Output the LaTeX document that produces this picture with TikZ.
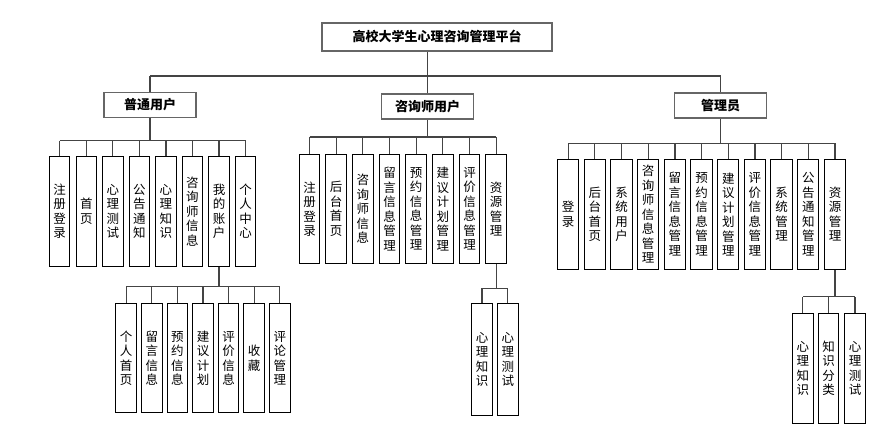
\documentclass[tikz,border=0pt]{standalone}
\usepackage{fontspec}
\newfontfamily\cjk{Noto Sans CJK SC}
\definecolor{lineg}{HTML}{444444}
\definecolor{boxg}{HTML}{666666}
\tikzset{
  top/.style={draw=boxg, line width=1.8pt, minimum width=230pt, minimum height=28pt, inner sep=0pt,
    font=\cjk\bfseries\fontsize{13}{15}\selectfont},
  lvl/.style={draw=boxg, line width=1.5pt, minimum width=92pt, minimum height=25pt, inner sep=0pt,
    font=\cjk\bfseries\fontsize{13}{15}\selectfont},
  leaf/.style={draw=black, line width=1pt, minimum width=20.5pt, minimum height=109.5pt, inner sep=0pt,
    align=center, font=\cjk\fontsize{12.5}{14.5}\selectfont},
  conn/.style={draw=lineg, line width=1.2pt},
}
\begin{document}
\begin{tikzpicture}[x=1pt,y=-1pt]
\useasboundingbox (0,0) rectangle (873,446);
% title and level 1
\node[top] (t) at (437,36.8) {高校大学生心理咨询管理平台};
\node[lvl] (u) at (150,105) {普通用户};
\node[lvl] (c) at (427.5,106.3) {咨询师用户};
\node[lvl] (a) at (720.5,105.3) {管理员};
\coordinate (tbar) at (427.5,76);
\draw[conn] (c.north) -- (c.north |- t.south);
\draw[conn] (u.north |- tbar) -- (a.north |- tbar);
\draw[conn] (u.north) -- (u.north |- tbar);
\draw[conn] (a.north) -- (a.north |- tbar);

% 普通用户 leaves
\foreach \i/\txt [count=\k from 0] in {u1/注\\册\\登\\录, u2/首\\页, u3/心\\理\\测\\试, u4/公\\告\\通\\知, u5/心\\理\\知\\识, u6/咨\\询\\师\\信\\息, u7/我\\的\\账\\户, u8/个\\人\\中\\心}
  \node[leaf] (\i) at (59.7+26.55*\k,211.3) {\txt};
\coordinate (ubar) at (150,140.7);
\draw[conn] (u.south) -- (u.south |- ubar);
\draw[conn] (u1.north |- ubar) -- (u8.north |- ubar);
\foreach \i in {u1,u2,u3,u4,u5,u6,u7,u8} \draw[conn] (\i.north) -- (\i.north |- ubar);

% 我的账户 children
\foreach \i/\txt [count=\k from 0] in {m1/个\\人\\首\\页, m2/留\\言\\信\\息, m3/预\\约\\信\\息, m4/建\\议\\计\\划, m5/评\\价\\信\\息, m6/收\\藏, m7/评\\论\\管\\理}
  \node[leaf] (\i) at (126.2+25.6*\k,358.2) {\txt};
\coordinate (mbar) at (218.8,286.7);
\draw[conn] (u7.south) -- (u7.south |- mbar);
\draw[conn] (m1.north |- mbar) -- (m7.north |- mbar);
\foreach \i in {m1,m2,m3,m4,m5,m6,m7} \draw[conn] (\i.north) -- (\i.north |- mbar);

% 咨询师用户 leaves
\foreach \i/\txt [count=\k from 0] in {c1/注\\册\\登\\录, c2/后\\台\\首\\页, c3/咨\\询\\师\\信\\息, c4/留\\言\\信\\息\\管\\理, c5/预\\约\\信\\息\\管\\理, c6/建\\议\\计\\划\\管\\理, c7/评\\价\\信\\息\\管\\理, c8/资\\源\\管\\理}
  \node[leaf] (\i) at (309.5+26.67*\k,209) {\txt};
\coordinate (cbar) at (427.5,137);
\draw[conn] (c.south) -- (c.south |- cbar);
\draw[conn] (c1.north |- cbar) -- (c8.north |- cbar);
\foreach \i in {c1,c2,c3,c4,c5,c6,c7,c8} \draw[conn] (\i.north) -- (\i.north |- cbar);

% 资源管理 children (consultant)
\node[leaf, minimum height=111pt] (r1) at (482,359.5) {心\\理\\知\\识};
\node[leaf, minimum height=111pt] (r2) at (507.8,359.5) {心\\理\\测\\试};
\coordinate (rbar) at (495,288.3);
\draw[conn] (c8.south) -- (c8.south |- rbar);
\draw[conn] (r1.north |- rbar) -- (r2.north |- rbar);
\draw[conn] (r1.north) -- (r1.north |- rbar);
\draw[conn] (r2.north) -- (r2.north |- rbar);

% 管理员 leaves
\foreach \i/\txt [count=\k from 0] in {a1/登\\录, a2/后\\台\\首\\页, a3/系\\统\\用\\户, a4/咨\\询\\师\\信\\息\\管\\理, a5/留\\言\\信\\息\\管\\理, a6/预\\约\\信\\息\\管\\理, a7/建\\议\\计\\划\\管\\理, a8/评\\价\\信\\息\\管\\理, a9/系\\统\\管\\理, a10/公\\告\\通\\知\\管\\理, a11/资\\源\\管\\理}
  \node[leaf, minimum width=21.3pt] (\i) at (568.2+26.68*\k,214.3) {\txt};
\coordinate (abar) at (720.5,143.3);
\draw[conn] (a.south) -- (a.south |- abar);
\draw[conn] (a1.north |- abar) -- (a11.north |- abar);
\foreach \i in {a1,a2,a3,a4,a5,a6,a7,a8,a9,a10,a11} \draw[conn] (\i.north) -- (\i.north |- abar);

% 资源管理 children (admin)
\node[leaf] (s1) at (802.8,368.3) {心\\理\\知\\识};
\node[leaf] (s2) at (828.7,368.3) {知\\识\\分\\类};
\node[leaf] (s3) at (855,368.3) {心\\理\\测\\试};
\coordinate (sbar) at (832,296.7);
\draw[conn] (a11.south) -- (a11.south |- sbar);
\draw[conn] (s1.north |- sbar) -- (s3.north |- sbar);
\foreach \i in {s1,s2,s3} \draw[conn] (\i.north) -- (\i.north |- sbar);
\end{tikzpicture}
\end{document}
